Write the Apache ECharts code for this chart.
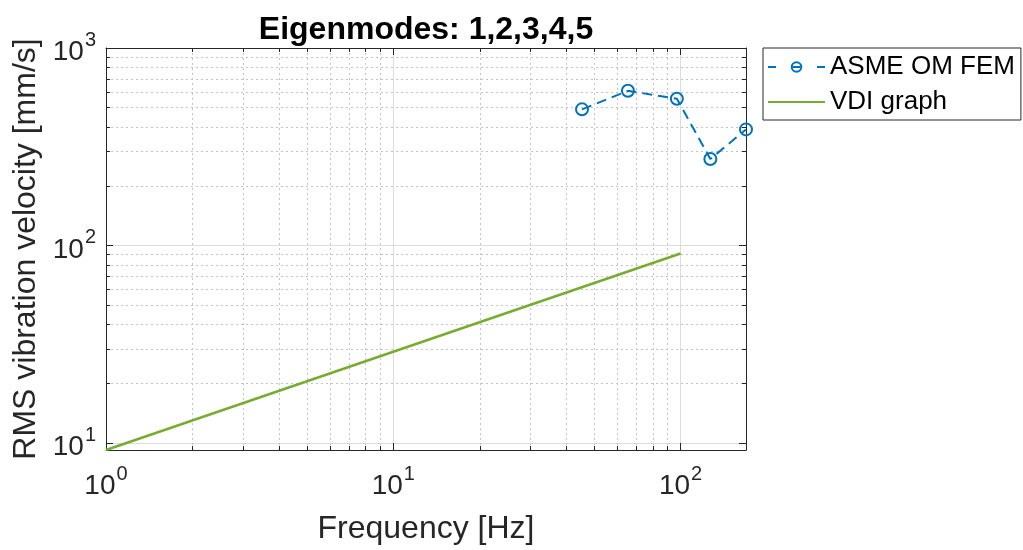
<!DOCTYPE html>
<html>
<head>
<meta charset="utf-8">
<script src="https://cdn.jsdelivr.net/npm/echarts@6/dist/echarts.min.js"></script>
<style>
  html, body { margin: 0; padding: 0; background: #fff; }
  #chart { width: 1023px; height: 550px; }
</style>
</head>
<body>
<div id="chart"></div>
<script>
// ---- chart data ----
const titleText = 'Eigenmodes: 1,2,3,4,5';
const xName = 'Frequency [Hz]';
const yName = 'RMS vibration velocity [mm/s]';
const seriesNames = ['ASME OM FEM', 'VDI graph'];

// eigenmode frequencies [Hz] and their RMS vibration velocities [mm/s]
const asmeFreq = [45.4, 65.6, 97.1, 127, 169];
const asmeVel = [489, 607, 553, 274, 387];

// VDI limit line, straight on log-log axes
const vdiFreq = [1, 100];
const vdiVel = [9.2, 91];

// axis ranges and minor grid positions
const xRange = [1, 169];
const yRange = [9.2, 1000];
const xMinor = [2, 3, 4, 5, 6, 7, 8, 9, 20, 30, 40, 50, 60, 70, 80, 90];
const yMinor = [20, 30, 40, 50, 60, 70, 80, 90, 200, 300, 400, 500, 600, 700, 800, 900];

// ---- styling ----
const FONT = '"Liberation Sans", Arial, Helvetica, sans-serif';
const AXIS_COLOR = '#262626';
const BLUE = '#0072BD';
const GREEN = '#77AC30';

// "10" with the exponent raised as a superscript, only on whole decades
function powLabel(v) {
  const e = Math.log10(v);
  const n = Math.round(e);
  if (Math.abs(e - n) > 1e-6) return '';
  return '{b|10}{s|' + n + '}';
}

const labelRich = {
  b: { fontSize: 28, lineHeight: 28, padding: [9, 0, 0, 0], color: AXIS_COLOR, fontFamily: FONT },
  s: { fontSize: 20, lineHeight: 20, padding: [0, 0, 15, 1], color: AXIS_COLOR, fontFamily: FONT }
};

function px(v) { return Math.round(v) + 0.5; }

// dotted minor grid plus the short inward minor ticks on all four sides
function minorGridSeries(dim) {
  const values = dim === 'x' ? xMinor : yMinor;
  return {
    type: 'custom',
    silent: true,
    z: 1,
    clip: false,
    xAxisIndex: 0,
    yAxisIndex: 0,
    data: values.map(v => dim === 'x' ? [v, yRange[0]] : [xRange[0], v]),
    encode: { x: 0, y: 1 },
    renderItem(params, api) {
      const cs = params.coordSys;
      const p = api.coord([api.value(0), api.value(1)]);
      const gridStyle = { stroke: '#c4c4c4', lineWidth: 1, lineDash: [2, 3] };
      const tickStyle = { stroke: AXIS_COLOR, lineWidth: 1 };
      const L = 4;
      const children = [];
      if (dim === 'x') {
        const x = px(p[0]);
        const top = cs.y, bot = cs.y + cs.height;
        children.push({ type: 'line', shape: { x1: x, y1: top, x2: x, y2: bot }, style: gridStyle });
        children.push({ type: 'line', shape: { x1: x, y1: bot, x2: x, y2: bot - L }, style: tickStyle });
        children.push({ type: 'line', shape: { x1: x, y1: top, x2: x, y2: top + L }, style: tickStyle });
      } else {
        const y = px(p[1]);
        const left = cs.x, right = cs.x + cs.width;
        children.push({ type: 'line', shape: { x1: left, y1: y, x2: right, y2: y }, style: gridStyle });
        children.push({ type: 'line', shape: { x1: left, y1: y, x2: left + L, y2: y }, style: tickStyle });
        children.push({ type: 'line', shape: { x1: right, y1: y, x2: right - L, y2: y }, style: tickStyle });
      }
      return { type: 'group', children };
    }
  };
}

function logAxis(pos, range, showLabels, extra) {
  return Object.assign({
    type: 'log',
    logBase: 10,
    position: pos,
    min: range[0],
    max: range[1],
    axisLine: { show: true, onZero: false, lineStyle: { color: AXIS_COLOR, width: 1 } },
    axisTick: { show: true, inside: true, length: 7, lineStyle: { color: AXIS_COLOR, width: 1 } },
    axisLabel: { show: false },
    splitLine: showLabels
      ? { show: true, lineStyle: { color: '#dcdcdc', width: 1 } }
      : { show: false },
    minorTick: { show: false },
    minorSplitLine: { show: false }
  }, extra || {});
}

const chart = echarts.init(document.getElementById('chart'), null, { renderer: 'canvas' });

chart.setOption({
  animation: false,
  backgroundColor: '#fff',
  textStyle: { fontFamily: FONT },
  title: {
    text: titleText,
    left: 421,
    textAlign: 'center',
    top: 9,
    textStyle: { fontSize: 32, fontWeight: 'bold', color: '#000', fontFamily: FONT }
  },
  grid: { left: 106, right: 277, top: 48, bottom: 97, containLabel: false },
  legend: {
    orient: 'vertical',
    left: 763,
    top: 48,
    padding: [6, 6, 5, 4],
    itemGap: 9,
    itemWidth: 57,
    itemHeight: 12,
    borderColor: AXIS_COLOR,
    borderWidth: 1,
    backgroundColor: '#fff',
    textStyle: { fontSize: 26, color: '#000', fontFamily: FONT },
    data: [
      { name: seriesNames[0], lineStyle: { type: [8, 16.5, 8, 16.5] } },
      { name: seriesNames[1], itemStyle: { opacity: 0 } }
    ]
  },
  xAxis: [
    logAxis('bottom', xRange, true, {
      name: xName,
      nameLocation: 'middle',
      nameGap: 63,
      nameTextStyle: { fontSize: 32, color: AXIS_COLOR, fontFamily: FONT },
      axisLabel: { show: true, formatter: powLabel, rich: labelRich, margin: 18, color: AXIS_COLOR, fontFamily: FONT }
    }),
    logAxis('top', xRange, false)
  ],
  yAxis: [
    logAxis('left', yRange, true, {
      name: yName,
      nameLocation: 'middle',
      nameGap: 62,
      nameTextStyle: { fontSize: 32, color: AXIS_COLOR, fontFamily: FONT },
      axisLabel: { show: true, formatter: powLabel, rich: labelRich, margin: 10, color: AXIS_COLOR, fontFamily: FONT }
    }),
    logAxis('right', yRange, false)
  ],
  series: [
    minorGridSeries('x'),
    minorGridSeries('y'),
    {
      name: seriesNames[0],
      type: 'line',
      z: 4,
      clip: false,
      data: asmeFreq.map((f, i) => [f, asmeVel[i]]),
      symbol: 'circle',
      symbolSize: 12,
      showSymbol: true,
      color: BLUE,
      lineStyle: { color: BLUE, width: 2, type: [10, 6] },
      itemStyle: { color: 'rgba(0,0,0,0)', borderColor: BLUE, borderWidth: 2 }
    },
    {
      name: seriesNames[1],
      type: 'line',
      z: 3,
      clip: false,
      data: vdiFreq.map((f, i) => [f, vdiVel[i]]),
      symbol: 'none',
      color: GREEN,
      lineStyle: { color: GREEN, width: 2.5 }
    }
  ]
});
</script>
</body>
</html>
